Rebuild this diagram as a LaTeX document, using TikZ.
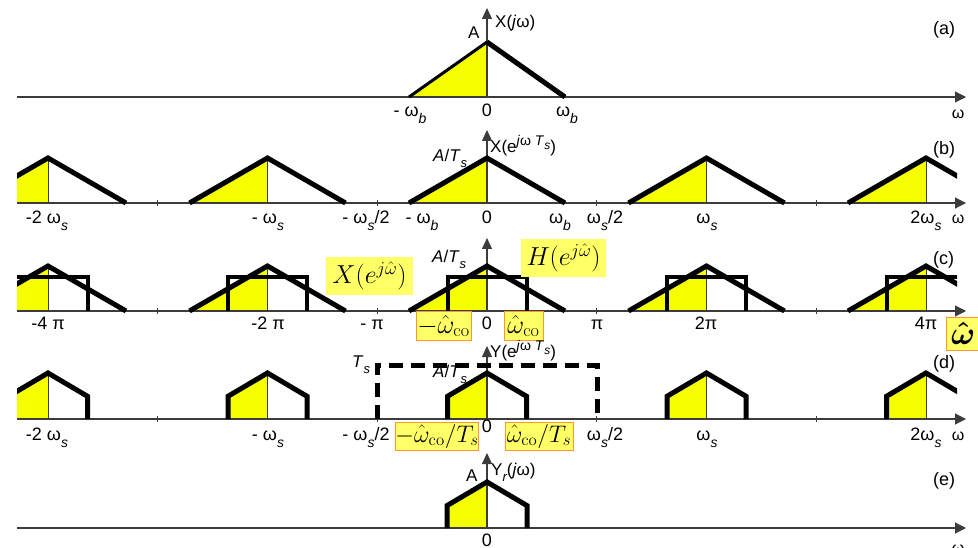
\RequirePackage{fix-cm}
\documentclass[tikz,border=0pt]{standalone}
\usepackage[no-math]{fontspec}
\setmainfont{Liberation Sans}
\usepackage{amsmath}
\usetikzlibrary{arrows.meta}
\definecolor{yel}{RGB}{245,255,0}
\definecolor{hil}{RGB}{255,255,102}
\definecolor{org}{RGB}{255,150,50}
\definecolor{axc}{RGB}{60,60,60}
\newcommand{\lsub}[1]{\raisebox{-7pt}{\fontsize{14}{14}\selectfont\itshape #1}}
\newcommand{\fsub}[1]{\raisebox{-6pt}{\fontsize{13}{13}\selectfont\itshape #1}}
\newcommand{\ssub}[1]{\raisebox{-4pt}{\fontsize{12}{12}\selectfont\itshape #1}}
\newcommand{\lsup}[1]{\raisebox{7pt}{\fontsize{14}{14}\selectfont #1}}
\tikzset{
  axisline/.style={draw=axc, line width=1.1pt},
  xarrow/.style={axisline, -{Triangle[length=11pt,width=11pt]}},
  yarrow/.style={axisline, -{Triangle[length=11pt,width=10pt]}},
  cline/.style={draw=axc, line width=0.9pt},
  edge/.style={line width=5pt, line join=miter, line cap=butt},
  thinedge/.style={line width=3pt, line cap=butt},
  boxline/.style={line width=4pt, line join=miter},
  dashline/.style={line width=5pt, dash pattern=on 14pt off 8pt},
  lab/.style={font=\fontsize{18}{18}\selectfont, anchor=base, inner sep=0},
  smlab/.style={font=\fontsize{16}{16}\selectfont, anchor=base, inner sep=0},
  flab/.style={font=\fontsize{17}{17}\selectfont, anchor=base west, inner sep=0},
  plab/.style={font=\fontsize{18}{18}\selectfont, anchor=base west, inner sep=0},
  hlbox/.style={fill=hil, draw=org, line width=1pt, inner sep=0, font=\fontsize{26}{26}\selectfont, minimum height=28pt},
  ybox/.style={fill=hil, inner sep=0, font=\fontsize{26}{26}\selectfont, minimum height=38pt},
  wlab/.style={font=\fontsize{32}{32}\selectfont, anchor=west, inner sep=0},
}
\begin{document}
\begin{tikzpicture}[x=1pt,y=-1pt]
\useasboundingbox (0,0) rectangle (978,548);
\fill[white] (0,0) rectangle (978,548);

% ---------------- panel (a)
\node[flab] (aA) at (468,39) {A};
\node[flab] (aX) at (495,28) {X(\textit{j}ω)};
\node[plab] (atag) at (933,35) {(a)};
\fill[yel] (409,97) -- (487,42) -- (487,97) -- cycle;
\draw[xarrow] (17,97) -- (966,97);
\draw[yarrow] (487,97) -- (487,8);
\draw[thinedge] (409,97) -- (487,42);
\draw[edge] (487,42) -- (565,97);
\node[lab] (amwb) at (410,117) {- ω\lsub{b}};
\node[lab] (a0) at (487,117) {0};
\node[lab] (awb) at (567,117) {ω\lsub{b}};
\node[smlab] (aw) at (958,119) {ω};

% ---------------- panel (b)
\node[flab] (bA) at (433,162) {\textit{A}/\textit{T}\fsub{s}};
\node[flab] (bX) at (490,153) {X(e\lsup{\textit{j}ω \textit{T}\ssub{s}})};
\node[plab] (btag) at (933,155) {(b)};
\begin{scope}
\clip (17,100) rectangle (957,210);
\foreach \k in {-2,...,2}{
  \pgfmathsetmacro\cx{487+219.5*\k}
  \fill[yel] (\cx-78,203) -- (\cx,158) -- (\cx,203) -- cycle;
  \draw[cline] (\cx,158) -- (\cx,203);
}
\end{scope}
\draw[xarrow] (17,203) -- (966,203);
\foreach \tk in {-329.25,-109.75,109.75,329.25} \draw[axisline] (487+\tk,200) -- (487+\tk,206);
\draw[yarrow] (487,203) -- (487,130);
\begin{scope}
\clip (17,100) rectangle (957,210);
\foreach \k in {-2,...,2}{
  \pgfmathsetmacro\cx{487+219.5*\k}
  \draw[edge] (\cx-78,203) -- (\cx,158) -- (\cx+78,203);
}
\end{scope}
\node[lab] (bm2) at (47,224) {-2 ω\lsub{s}};
\node[lab] (bm1) at (268,224) {- ω\lsub{s}};
\node[lab] (bmh) at (366,224) {- ω\lsub{s}/2};
\node[lab] (bmb) at (422,224) {- ω\lsub{b}};
\node[lab] (b0) at (487,224) {0};
\node[lab] (bb) at (560,224) {ω\lsub{b}};
\node[lab] (bh) at (605,224) {ω\lsub{s}/2};
\node[lab] (b1) at (707,224) {ω\lsub{s}};
\node[lab] (b2) at (926,224) {2ω\lsub{s}};
\node[smlab] (bw) at (958,224) {ω};

% ---------------- panel (c)
\node[flab] (cA) at (432,263) {\textit{A}/\textit{T}\fsub{s}};
\node[plab] (ctag) at (933,265) {(c)};
\begin{scope}
\clip (17,230) rectangle (957,318);
\foreach \k in {-2,...,2}{
  \pgfmathsetmacro\cx{487+219.5*\k}
  \fill[yel] (\cx-78,311) -- (\cx,266) -- (\cx,311) -- cycle;
  \draw[cline] (\cx,266) -- (\cx,311);
}
\end{scope}
\draw[xarrow] (17,311) -- (966,311);
\foreach \tk in {-329.25,-109.75,109.75,329.25} \draw[axisline] (487+\tk,308) -- (487+\tk,314);
\draw[yarrow] (487,311) -- (487,238);
\begin{scope}
\clip (17,230) rectangle (957,318);
\foreach \k in {-2,...,2}{
  \pgfmathsetmacro\cx{487+219.5*\k}
  \draw[edge] (\cx-78,311) -- (\cx,266) -- (\cx+78,311);
  \draw[boxline] (\cx-39.5,311) -- (\cx-39.5,277) -- (\cx+39.5,277) -- (\cx+39.5,311);
}
\end{scope}
\node[lab] (cm4) at (48,330) {-4 π};
\node[lab] (cm2) at (268,330) {-2 π};
\node[lab] (cm1) at (372,330) {- π};
\node[lab] (c0) at (487,330) {0};
\node[lab] (c1) at (597,330) {π};
\node[lab] (c2) at (706,330) {2π};
\node[lab] (c4) at (926,330) {4π};
\node[ybox, minimum width=87pt] (Xb) at (369.5,276) {$X(e^{j\hat\omega})$};
\node[ybox, minimum width=85pt] (Hb) at (563.5,258) {$H(e^{j\hat\omega})$};
\node[hlbox, minimum width=55pt] (wco1) at (443.5,326) {$-\hat\omega_{\mathrm{co}}$};
\node[hlbox, minimum width=39pt] (wco2) at (523.5,326) {$\hat\omega_{\mathrm{co}}$};
\draw[fill=hil, draw=org, line width=1pt] (946,318) rectangle (992,350);
\node[wlab] (wh) at (951,333) {$\boldsymbol{\hat{\omega}}$};

% ---------------- panel (d)
\node[flab] (dT) at (352,367) {\textit{T}\fsub{s}};
\node[flab] (dA) at (433,377) {\textit{A}/\textit{T}\fsub{s}};
\node[flab] (dY) at (490,357) {Y(e\lsup{\textit{j}ω \textit{T}\ssub{s}})};
\node[plab] (dtag) at (933,368) {(d)};
\begin{scope}
\clip (17,340) rectangle (957,426);
\foreach \k in {-2,...,2}{
  \pgfmathsetmacro\cx{487+219.5*\k}
  \fill[yel] (\cx-39.5,419) -- (\cx-39.5,396.3) -- (\cx,373) -- (\cx,419) -- cycle;
  \draw[cline] (\cx,373) -- (\cx,419);
}
\end{scope}
\draw[xarrow] (17,419) -- (966,419);
\foreach \tk in {-329.25,-109.75,109.75,329.25} \draw[axisline] (487+\tk,416) -- (487+\tk,422);
\draw[yarrow] (487,419) -- (487,346);
\begin{scope}
\clip (17,340) rectangle (957,426);
\foreach \k in {-2,...,2}{
  \pgfmathsetmacro\cx{487+219.5*\k}
  \draw[edge] (\cx-39.5,419) -- (\cx-39.5,396.3) -- (\cx,373) -- (\cx+39.5,396.3) -- (\cx+39.5,419);
}
\end{scope}
\draw[dashline] (377,419) -- (377,365) -- (597,365) -- (597,419);
\node[lab] (dm2) at (47,440) {-2 ω\lsub{s}};
\node[lab] (dm1) at (268,440) {- ω\lsub{s}};
\node[lab] (dmh) at (366,440) {- ω\lsub{s}/2};
\node[lab] (d0) at (487,432) {0};
\node[lab] (dh) at (605,440) {ω\lsub{s}/2};
\node[lab] (d1) at (707,440) {ω\lsub{s}};
\node[lab] (d2) at (926,440) {2ω\lsub{s}};
\node[smlab] (dw) at (958,440) {ω};
\node[hlbox, minimum width=82pt, font=\fontsize{24}{24}\selectfont] (wct1) at (437,436) {$-\hat\omega_{\mathrm{co}}/T_s$};
\node[hlbox, minimum width=68pt, font=\fontsize{24}{24}\selectfont] (wct2) at (539,436) {$\hat\omega_{\mathrm{co}}/T_s$};

% ---------------- panel (e)
\node[flab] (eA) at (466,481) {A};
\node[flab] (eY) at (491,475) {Y\fsub{r}(\textit{j}ω)};
\node[plab] (etag) at (933,485) {(e)};
\fill[yel] (447,528) -- (447,505.6) -- (487,482) -- (487,528) -- cycle;
\draw[xarrow] (17,528) -- (966,528);
\draw[yarrow] (487,528) -- (487,453);
\draw[edge] (447,528) -- (447,505.6) -- (487,482) -- (527,505.6) -- (527,528);
\node[lab] (e0) at (487,546) {0};
\node[smlab] (ew) at (958,553) {ω};
\end{tikzpicture}
\end{document}
